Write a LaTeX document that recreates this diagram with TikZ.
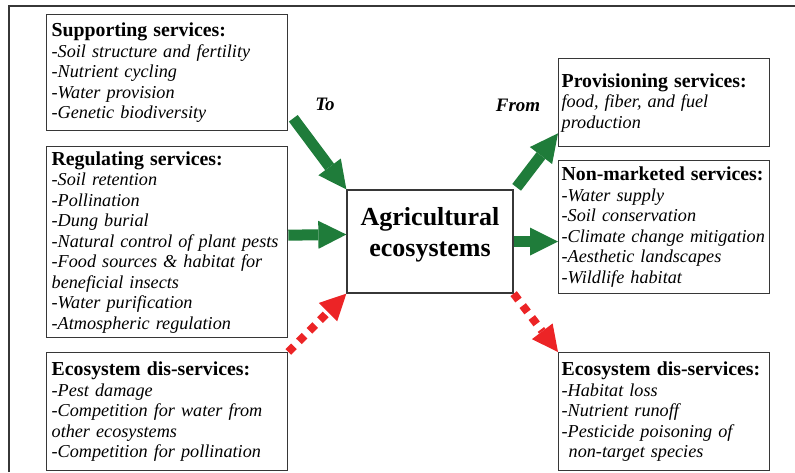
\documentclass[tikz,border=0pt]{standalone}
\usepackage{fontspec}
\setmainfont{Liberation Serif}
\usepackage{tikz}
\usetikzlibrary{arrows.meta,calc,positioning}

\definecolor{arrowgreen}{RGB}{31,124,58}
\definecolor{arrowred}{RGB}{236,36,38}
\definecolor{boxline}{RGB}{55,55,55}

\newcommand{\svchead}[1]{{\upshape\bfseries\fontsize{19.8}{20.5}\selectfont #1}}

\tikzset{
	svcbox/.style={draw=boxline, line width=1.3pt, anchor=north west, align=left, inner xsep=5pt, font=\itshape\fontsize{18.2}{20.5}\selectfont},
	leftbox/.style={svcbox, text width=231pt},
	rightbox/.style={svcbox, inner xsep=3pt, text width=205pt},
	agribox/.style={draw=boxline, line width=1.3pt, align=center, minimum width=166pt, minimum height=103pt, font=\bfseries\fontsize{26}{31}\selectfont},
	arrowlbl/.style={anchor=base, font=\bfseries\itshape\fontsize{19}{19}\selectfont},
	goodarrow/.style={draw=arrowgreen, line width=11pt, -{Triangle[length=28pt,width=28pt,line width=0pt]}},
	badarrow/.style={draw=arrowred, line width=8pt, dash pattern=on 8pt off 7pt, -{Triangle[length=26pt,width=26pt,line width=0pt]}}
}

\begin{document}
\begin{tikzpicture}[x=1pt, y=-1pt]
	\useasboundingbox (0,0) rectangle (795,472);
	% outer frame (cut on the right and at the bottom)
	\draw [boxline, line width=1.3pt] (9,472) -- (9,6) -- (795,6);

	% services flowing into the system
	\node [leftbox, minimum height=116pt] (sup) at (46,14) {\svchead{Supporting services:}\\
		-Soil structure and fertility\\
		-Nutrient cycling\\
		-Water provision\\
		-Genetic biodiversity};
	\node [leftbox, minimum height=191pt] (reg) at (46,146) {\svchead{Regulating services:}\\
		-Soil retention\\
		-Pollination\\
		-Dung burial\\
		-Natural control of plant pests\\
		-Food sources \& habitat for\\
		beneficial insects\\
		-Water purification\\
		-Atmospheric regulation};
	\node [leftbox, minimum height=118pt] (ldis) at (46,352) {\svchead{Ecosystem dis-services:}\\
		-Pest damage\\
		-Competition for water from\\
		other ecosystems\\
		-Competition for pollination};

	% the system itself
	\node [agribox] (agri) at (430,241.5) {Agricultural\\ecosystems\rule[-20pt]{0pt}{0pt}};

	% services flowing out of the system
	\node [rightbox, minimum height=88pt] (prov) at (558,58) {\svchead{Provisioning services:}\\
		food, fiber, and fuel\\
		production};
	\node [rightbox, minimum height=133pt] (nonmkt) at (558,160) {\svchead{Non-marketed services:}\\
		-Water supply\\
		-Soil conservation\\
		-Climate change mitigation\\
		-Aesthetic landscapes\\
		-Wildlife habitat};
	\node [rightbox, minimum height=118pt] (rdis) at (558,352) {\svchead{Ecosystem dis-services:}\\
		-Habitat loss\\
		-Nutrient runoff\\
		-Pesticide poisoning of\\
		\hspace*{7pt}non-target species};

	\node [arrowlbl] (lblto) at (325,110) {To};
	\node [arrowlbl] (lblfrom) at (518,111) {From};

	% arrows
	\draw [goodarrow] ($(sup.south east)+(5,-13)$) to (agri.north west);
	\draw [goodarrow] ($(reg.east)+(0,-7)$) to ($(agri.west)+(0,-7)$);
	\draw [badarrow] (ldis.north east) to (agri.south west);
	\draw [goodarrow] ($(agri.north east)+(3,-2)$) to ($(prov.south west)+(0,-14)$);
	\draw [goodarrow] (agri.east) to (agri.east -| nonmkt.west);
	\draw [badarrow] (agri.south east) to (rdis.north west);
\end{tikzpicture}
\end{document}
